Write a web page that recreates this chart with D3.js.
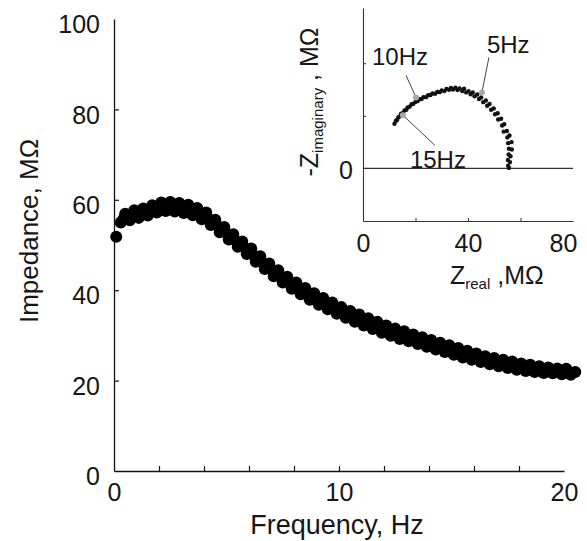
<!DOCTYPE html>
<html>
<head>
<meta charset="utf-8">
<script src="https://cdn.jsdelivr.net/npm/d3@7"></script>
<style>
body { margin: 0; background: #fff; }
text { font-family: "Liberation Sans", Arial, sans-serif; fill: #161616; }
</style>
</head>
<body>
<div id="chart"></div>
<script>
// main plot: impedance vs frequency
const freq = [
  0.1, 0.3, 0.5, 0.7, 0.9, 1.1, 1.3, 1.5, 1.7, 1.9,
  2.1, 2.3, 2.5, 2.7, 2.9, 3.1, 3.3, 3.5, 3.7, 3.9,
  4.1, 4.3, 4.5, 4.7, 4.9, 5.1, 5.3, 5.5, 5.7, 5.9,
  6.1, 6.3, 6.5, 6.7, 6.9, 7.1, 7.3, 7.5, 7.7, 7.9,
  8.1, 8.3, 8.5, 8.7, 8.9, 9.1, 9.3, 9.5, 9.7, 9.9,
  10.1, 10.3, 10.5, 10.7, 10.9, 11.1, 11.3, 11.5, 11.7, 11.9,
  12.1, 12.3, 12.5, 12.7, 12.9, 13.1, 13.3, 13.5, 13.7, 13.9,
  14.1, 14.3, 14.5, 14.7, 14.9, 15.1, 15.3, 15.5, 15.7, 15.9,
  16.1, 16.3, 16.5, 16.7, 16.9, 17.1, 17.3, 17.5, 17.7, 17.9,
  18.1, 18.3, 18.5, 18.7, 18.9, 19.1, 19.3, 19.5, 19.7, 19.9,
  20.1, 20.3, 20.5
]
const impedance = [
  51.8, 55.0, 56.9, 55.5, 57.7, 56.0, 58.1, 56.5, 58.8, 57.2,
  59.4, 57.5, 59.5, 57.4, 59.3, 57.1, 58.9, 56.6, 58.2, 55.7,
  57.2, 54.4, 55.6, 52.8, 54.0, 51.2, 52.4, 49.6, 50.8, 48.0,
  49.2, 46.3, 47.5, 44.7, 45.9, 43.1, 44.4, 41.7, 43.0, 40.3,
  41.7, 39.1, 40.5, 37.9, 39.3, 36.8, 38.3, 35.8, 37.3, 34.8,
  36.3, 33.9, 35.4, 33.0, 34.6, 32.2, 33.8, 31.4, 33.0, 30.6,
  32.2, 29.9, 31.5, 29.2, 30.9, 28.7, 30.2, 28.1, 29.6, 27.5,
  29.0, 26.9, 28.4, 26.3, 27.8, 25.7, 27.2, 25.1, 26.6, 24.6,
  26.0, 24.1, 25.4, 23.6, 25.0, 23.2, 24.6, 22.8, 24.2, 22.4,
  23.8, 22.1, 23.5, 21.9, 23.2, 21.7, 22.9, 21.6, 22.7, 21.4,
  22.6, 21.3, 21.9
]
const freqTicks = [0, 2, 4, 6, 8, 10, 12, 14, 16, 18, 20]
const freqLabels = [0, 10, 20]
const impTicks = [0, 20, 40, 60, 80, 100]

// inset: nyquist plot
const zReal = [
  12.0, 12.5, 13.0, 13.5, 14.0, 14.5, 15.2, 15.8, 16.5, 17.0,
  17.8, 18.5, 19.2, 20.0, 20.8, 21.5, 22.3, 23.0, 24.0, 24.8,
  25.7, 26.5, 27.5, 28.3, 29.2, 30.0, 31.0, 31.8, 32.8, 33.5,
  34.3, 35.2, 36.0, 36.8, 37.8, 38.5, 39.3, 40.2, 41.0, 41.8,
  42.5, 43.5, 44.2, 45.0, 45.8, 46.8, 47.3, 48.2, 48.8, 49.8,
  50.3, 51.3, 51.5, 52.6, 53.0, 53.8, 53.6, 54.8, 55.0, 55.8,
  55.3, 56.6, 55.6, 56.7, 55.5, 56.2, 55.2, 56.0, 55.3, 55.6
]
const zImag = [
  17.0, 18.0, 18.5, 19.5, 19.8, 20.8, 21.0, 22.0, 22.3, 23.2,
  23.5, 24.4, 24.6, 25.3, 25.6, 26.3, 26.4, 27.1, 27.1, 27.8,
  27.9, 28.5, 28.4, 29.1, 29.0, 29.6, 29.4, 30.2, 29.9, 30.6,
  30.0, 30.7, 29.8, 30.4, 29.4, 30.3, 28.9, 29.4, 28.2, 28.9,
  27.4, 28.1, 26.4, 27.0, 25.2, 25.8, 23.8, 24.5, 22.3, 22.8,
  20.6, 21.0, 18.6, 18.9, 16.3, 16.8, 14.0, 14.2, 11.8, 12.5,
  9.6, 10.0, 7.5, 7.2, 5.3, 4.6, 3.2, 2.4, 1.0, 0.2
]
const nyqXTicks = [0, 20, 40, 60, 80]
const nyqXLabels = [0, 40, 80]
const nyqYTicks = [-20, 0, 20, 40]
const nyqYLabels = [0]
const markNames = ['5Hz', '10Hz', '15Hz']
const markReal = [45.3, 20.2, 15.2]
const markImag = [28.9, 27.0, 20.2]

let width = 587
let height = 541

const svg = d3.select('#chart')
  .append('svg')
  .attr('width', width)
  .attr('height', height)

// ---- main plot ----
let x = d3.scaleLinear().domain([0, 20]).range([114, 564])
let y = d3.scaleLinear().domain([0, 100]).range([471, 19])

let xAxis = svg.append('g')
  .attr('transform', `translate(0,${y(0)})`)
  .call(d3.axisBottom(x)
    .tickValues(freqTicks)
    .tickSize(-5)
    .tickSizeOuter(0)
    .tickPadding(12)
    .tickFormat(d => freqLabels.includes(d) ? d : ''))

xAxis.selectAll('.tick line')
  .attr('opacity', d => (d == 0 || d == 20) ? 0 : 1)

let yAxis = svg.append('g')
  .attr('transform', `translate(${x(0)},0)`)
  .call(d3.axisLeft(y)
    .tickValues(impTicks)
    .tickSize(-5)
    .tickSizeOuter(0)
    .tickPadding(14))

yAxis.selectAll('.tick line')
  .attr('opacity', d => (d == 0 || d == 100) ? 0 : 1)
yAxis.selectAll('.tick text').attr('dy', '0.55em')

svg.selectAll('.domain').attr('stroke', '#111').attr('stroke-width', 1.3)
svg.selectAll('.tick line').attr('stroke', '#111').attr('stroke-width', 1.2)
svg.selectAll('.tick text')
  .style('font-family', '"Liberation Sans", Arial, sans-serif')
  .style('font-size', '25px')
  .attr('fill', '#161616')

let points = freq.map((f, i) => ({ f: f, z: impedance[i] }))

// thick trace under the dots so the band reads as one solid stroke
svg.append('path')
  .datum(points.slice(1))
  .attr('fill', 'none')
  .attr('stroke', '#000')
  .attr('stroke-width', 10)
  .attr('stroke-linejoin', 'round')
  .attr('d', d3.line().x(d => x(d.f)).y(d => y(d.z)))

svg.append('g')
  .selectAll('circle')
  .data(points)
  .enter()
  .append('circle')
  .attr('cx', d => x(d.f))
  .attr('cy', d => y(d.z))
  .attr('r', 6)
  .attr('fill', '#000')

svg.append('text')
  .attr('x', 337)
  .attr('y', 534)
  .attr('text-anchor', 'middle')
  .style('font-size', '27px')
  .text('Frequency, Hz')

svg.append('text')
  .attr('transform', 'translate(38,231) rotate(-90)')
  .attr('text-anchor', 'middle')
  .style('font-size', '26px')
  .text('Impedance, MΩ')

// ---- inset ----
let nx = d3.scaleLinear().domain([0, 80]).range([363, 573])
let ny = d3.scaleLinear().domain([-20, 61]).range([221, 8])

let inset = svg.append('g')

let nxAxis = inset.append('g')
  .attr('transform', `translate(0,${ny(-20)})`)
  .call(d3.axisBottom(nx)
    .tickValues(nyqXTicks)
    .tickSize(-3)
    .tickSizeOuter(0)
    .tickPadding(13)
    .tickFormat(d => nyqXLabels.includes(d) ? d : ''))

nxAxis.selectAll('.tick line')
  .attr('opacity', d => (d == 0 || d == 80) ? 0 : 1)
nxAxis.selectAll('.tick text')
  .attr('dx', d => d == 80 ? -10 : 0)

let nyAxis = inset.append('g')
  .attr('transform', `translate(${nx(0)},0)`)
  .call(d3.axisLeft(ny)
    .tickValues(nyqYTicks)
    .tickSize(-3)
    .tickSizeOuter(0)
    .tickPadding(10)
    .tickFormat(d => nyqYLabels.includes(d) ? d : ''))

nyAxis.selectAll('.tick line')
  .attr('opacity', d => (d == -20 || d == 0) ? 0 : 1)
nyAxis.selectAll('.tick text').attr('dy', '0.4em')

inset.selectAll('.domain').attr('stroke', '#333').attr('stroke-width', 1.1)
inset.selectAll('.tick line').attr('stroke', '#333')
inset.selectAll('.tick text')
  .style('font-family', '"Liberation Sans", Arial, sans-serif')
  .style('font-size', '25px')
  .attr('fill', '#161616')

// zero line
inset.append('line')
  .attr('x1', nx(0))
  .attr('x2', nx(80))
  .attr('y1', ny(0))
  .attr('y2', ny(0))
  .attr('stroke', '#333')
  .attr('stroke-width', 1.1)

inset.append('g')
  .selectAll('circle')
  .data(zReal.map((r, i) => ({ r: r, im: zImag[i] })))
  .enter()
  .append('circle')
  .attr('cx', d => nx(d.r))
  .attr('cy', d => ny(d.im))
  .attr('r', 2.2)
  .attr('fill', '#111')

// frequency markers with leader lines
let leader = { '5Hz': [7, -35], '10Hz': [-10, -22], '15Hz': [32, 30] }
let labelPos = { '5Hz': [5, -39], '10Hz': [-44, -32], '15Hz': [7, 53] }

let marks = inset.selectAll('.mark')
  .data(markNames.map((m, i) => ({ name: m, r: markReal[i], im: markImag[i] })))
  .enter()
  .append('g')
  .attr('class', 'mark')
  .attr('transform', d => `translate(${nx(d.r)},${ny(d.im)})`)

marks.append('line')
  .attr('x1', 0)
  .attr('y1', 0)
  .attr('x2', d => leader[d.name][0])
  .attr('y2', d => leader[d.name][1])
  .attr('stroke', '#444')
  .attr('stroke-width', 1)

marks.append('circle')
  .attr('r', 3)
  .attr('fill', '#aaa')

marks.append('text')
  .attr('x', d => labelPos[d.name][0])
  .attr('y', d => labelPos[d.name][1])
  .style('font-size', '24px')
  .text(d => d.name)

// inset axis titles
let xt = inset.append('text')
  .attr('x', 450)
  .attr('y', 284)
  .style('font-size', '25px')
xt.append('tspan').text('Z')
xt.append('tspan').attr('dy', 5).style('font-size', '15px').text('real')
xt.append('tspan').attr('dy', -5).text(' ,MΩ')

let yt = inset.append('text')
  .attr('transform', 'translate(318,102) rotate(-90)')
  .attr('text-anchor', 'middle')
  .style('font-size', '25px')
yt.append('tspan').text('-Z')
yt.append('tspan').attr('dy', 5).style('font-size', '15px').text('imaginary')
yt.append('tspan').attr('dy', -5).text(' , MΩ')
</script>
</body>
</html>
